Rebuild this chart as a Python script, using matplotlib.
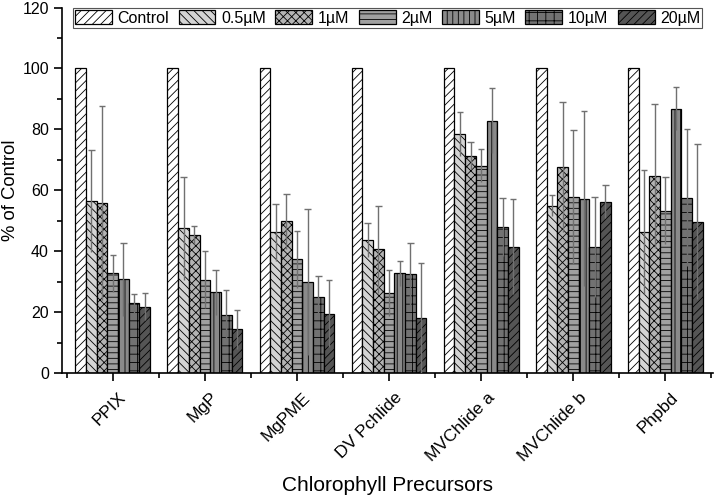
import numpy as np
import matplotlib.pyplot as plt
from matplotlib.transforms import ScaledTranslation

plt.rcParams['font.family'] = ['Liberation Sans', 'DejaVu Sans']
plt.rcParams['hatch.linewidth'] = 0.6

# données
precurseurs = ['PPIX', 'MgP', 'MgPME', 'DV Pchlide', 'MVChlide a', 'MVChlide b', 'Phpbd']
traitements = ['Control', '0.5µM', '1µM', '2µM', '5µM', '10µM', '20µM']

control = [100, 100, 100, 100, 100, 100, 100]
c05 = [56.5, 47.5, 46.2, 43.8, 78.5, 54.9, 46.4]
c1 = [55.7, 45.4, 49.8, 40.6, 71.3, 67.7, 64.7]
c2 = [32.8, 30.6, 37.3, 26.2, 68.0, 57.9, 53.3]
c5 = [30.7, 26.5, 29.8, 32.7, 82.8, 57.2, 86.8]
c10 = [22.9, 19.1, 24.9, 32.4, 47.8, 41.4, 57.6]
c20 = [21.8, 14.3, 19.5, 18.0, 41.4, 56.3, 49.7]

err05 = [16.7, 17.0, 9.3, 5.6, 7.3, 3.4, 20.4]
err1 = [31.8, 3.0, 9.1, 14.2, 4.4, 21.4, 23.7]
err2 = [6.1, 9.3, 9.3, 7.6, 5.4, 22.0, 11.0]
err5 = [12.0, 7.4, 24.0, 4.0, 10.7, 28.8, 7.1]
err10 = [3.2, 8.0, 7.1, 10.3, 9.5, 16.5, 22.6]
err20 = [4.5, 6.5, 11.0, 18.0, 15.6, 5.5, 25.5]

series = [control, c05, c1, c2, c5, c10, c20]
erreurs = [None, err05, err1, err2, err5, err10, err20]

couleurs = ['white', '#d4d4d4', '#b4b4b4', '#a0a0a0', '#8a8a8a', '#727272', '#555555']
hachures = ['////', '\\\\\\\\', 'xxxx', '---', '|||', '++', '////']

fig, ax = plt.subplots(figsize=(7.14, 5.0), dpi=100)
fig.subplots_adjust(left=0.087, right=0.999, top=0.985, bottom=0.254)

x = np.arange(1, len(precurseurs) + 1)
largeur = 0.116

for i, (vals, nom) in enumerate(zip(series, traitements)):
    pos = x + (i - 3) * largeur
    ax.bar(pos, vals, largeur, color=couleurs[i], edgecolor='black',
           hatch=hachures[i], linewidth=0.9, label=nom, zorder=2)
    if erreurs[i] is not None:
        v = np.array(vals)
        e = np.array(erreurs[i])
        ax.vlines(pos, v - e, v + e, color='#707070', linewidth=1, zorder=3)
        ax.hlines(v + e, pos - 0.035, pos + 0.035, color='#707070', linewidth=1, zorder=3)

ax.set_xlim(0.45, 7.52)
ax.set_ylim(0, 120)
ax.set_yticks(np.arange(0, 121, 20))
ax.set_yticks(np.arange(0, 121, 10), minor=True)
ax.set_xticks(x)
ax.set_xticks(np.arange(0.5, 8, 1), minor=True)
ax.set_xticklabels(precurseurs, rotation=45, ha='right', rotation_mode='anchor')
ax.tick_params(axis='both', which='major', direction='out', length=6, width=1.2)
ax.tick_params(axis='both', which='minor', direction='out', length=3.5, width=1.2)
ax.tick_params(axis='y', which='major', labelsize=11.5)
ax.tick_params(axis='x', which='major', labelsize=12.5, pad=6)

# décaler un peu les étiquettes vers la droite
decalage = ScaledTranslation(4 / 72, 0, fig.dpi_scale_trans)
for lab in ax.get_xticklabels():
    lab.set_transform(lab.get_transform() + decalage)

ax.spines['top'].set_visible(False)
ax.spines['right'].set_visible(False)
ax.spines['left'].set_linewidth(1.2)
ax.spines['bottom'].set_linewidth(1.2)

ax.set_ylabel('% of Control', fontsize=13.3)
ax.yaxis.set_label_coords(-0.066, 0.5)
ax.set_xlabel('Chlorophyll Precursors', fontsize=15)
ax.xaxis.set_label_coords(0.5, -0.283)

leg = ax.legend(loc='upper center', bbox_to_anchor=(0.5, 0.998), ncol=7, fontsize=11.5,
                frameon=True, fancybox=False, edgecolor='#555555', handlelength=2.3,
                handleheight=1.0, columnspacing=0.6, handletextpad=0.35, borderpad=0.12,
                borderaxespad=0, framealpha=1)
leg.get_frame().set_linewidth(0.8)

plt.savefig('out.png', dpi=100)
